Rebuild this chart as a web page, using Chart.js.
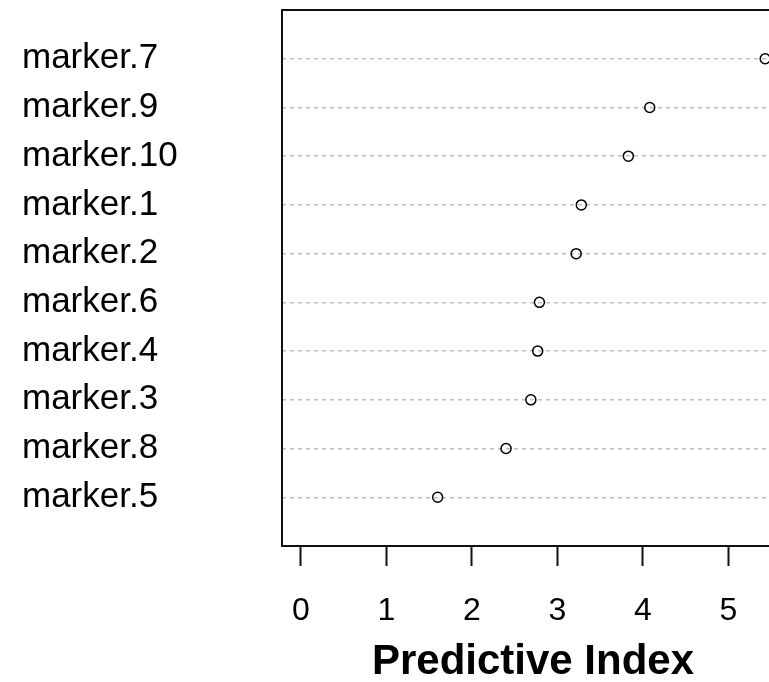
<!DOCTYPE html>
<html>
<head>
<meta charset="utf-8">
<script src="https://cdn.jsdelivr.net/npm/chart.js@4/dist/chart.umd.min.js"></script>
<style>
  html, body { margin: 0; padding: 0; background: #fff; overflow: hidden; }
  canvas { display: block; }
</style>
</head>
<body>
<canvas id="dotChart" width="800" height="682"></canvas>
<script>
// rows listed top to bottom, as in the picture
const markers = ['marker.7', 'marker.9', 'marker.10', 'marker.1', 'marker.2',
  'marker.6', 'marker.4', 'marker.3', 'marker.8', 'marker.5'];
const predictiveIndex = [5.43, 4.08, 3.83, 3.28, 3.22, 2.79, 2.77, 2.69, 2.40, 1.60];
const xTicks = [0, 1, 2, 3, 4, 5];
const xTitle = 'Predictive Index';

const FONT = "'Liberation Sans', Arial, Helvetica, sans-serif";

// box around the plotting region
const boxPlugin = {
  id: 'box',
  afterDatasetsDraw(chart) {
    const a = chart.chartArea;
    const ctx = chart.ctx;
    ctx.save();
    ctx.strokeStyle = '#111';
    ctx.lineWidth = 2;
    ctx.strokeRect(a.left, a.top, a.right - a.left, a.bottom - a.top);
    ctx.restore();
  }
};

const points = predictiveIndex.map((v, i) => ({ x: v, y: markers.length - i }));

new Chart(document.getElementById('dotChart').getContext('2d'), {
  type: 'scatter',
  data: {
    datasets: [{
      data: points,
      pointStyle: 'circle',
      pointRadius: 5,
      pointHoverRadius: 5,
      borderColor: '#000',
      backgroundColor: 'rgba(0,0,0,0)',
      borderWidth: 1.5,
    }],
  },
  options: {
    responsive: false,
    devicePixelRatio: 1,
    animation: false,
    layout: { padding: { left: 22, right: 16, top: 10, bottom: 0 } },
    plugins: {
      legend: { display: false },
      tooltip: { enabled: false },
    },
    scales: {
      x: {
        type: 'linear',
        min: -0.22,
        max: 5.65,
        afterBuildTicks: (axis) => { axis.ticks = xTicks.map((v) => ({ value: v })); },
        afterFit: (axis) => {
          axis.height = 136;
          axis.paddingLeft = 0;
          axis.paddingRight = 0;
        },
        border: { display: false },
        grid: {
          drawOnChartArea: false,
          drawTicks: true,
          tickLength: 20,
          tickColor: '#111',
          tickWidth: 2,
        },
        ticks: {
          padding: 26,
          color: '#000',
          font: { family: FONT, size: 32 },
        },
        title: {
          display: true,
          text: xTitle,
          color: '#000',
          padding: { top: 0, bottom: 0 },
          font: { family: FONT, size: 42, weight: 'bold', lineHeight: 0.95 },
        },
      },
      y: {
        type: 'linear',
        min: 0,
        max: 11,
        afterBuildTicks: (axis) => {
          axis.ticks = markers.map((m, i) => ({ value: markers.length - i }));
        },
        afterFit: (axis) => {
          axis.width = 260;
          axis.paddingTop = 0;
          axis.paddingBottom = 0;
        },
        // in v4 the grid line dash is read from border.dash
        border: { display: false, dash: [4, 4] },
        grid: {
          drawTicks: false,
          color: '#c0c0c0',
          lineWidth: 1.5,
        },
        ticks: {
          crossAlign: 'far',
          padding: 0,
          color: '#000',
          font: { family: FONT, size: 35 },
          callback: (v) => markers[markers.length - v],
        },
      },
    },
  },
  plugins: [boxPlugin],
});
</script>
</body>
</html>
